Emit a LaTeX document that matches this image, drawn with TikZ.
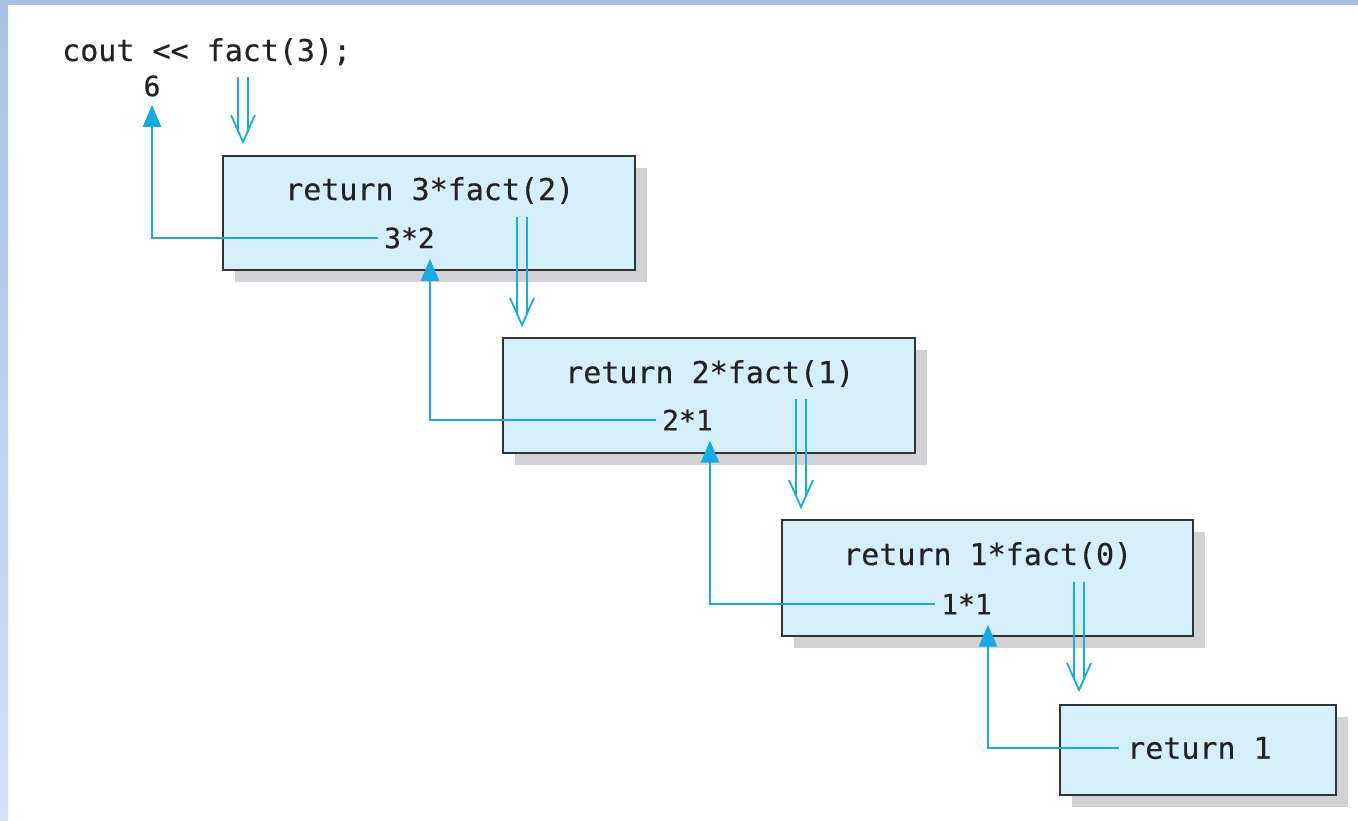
\documentclass[tikz,border=0pt]{standalone}
\usepackage{fontspec}
\newfontfamily\codefont[FakeBold=0.35]{DejaVu Sans Mono}
\usetikzlibrary{shadows,arrows.meta,calc}
\definecolor{boxfill}{HTML}{D4EEFA}
\definecolor{shadowc}{HTML}{D2D2D6}
\definecolor{edgec}{HTML}{333333}
\definecolor{cyanline}{HTML}{1AAAE2}
\definecolor{txt}{HTML}{222222}
\definecolor{stripA}{HTML}{AABFE8}
\definecolor{stripB}{HTML}{D4DFF2}
\begin{document}
\begin{tikzpicture}[x=1pt,y=-1pt,
  framebox/.style={draw=edgec, line width=2pt, fill=boxfill, inner sep=0pt,
    drop shadow={shadow xshift=12pt, shadow yshift=-12pt, fill=shadowc, opacity=1}},
  code/.style={inner sep=0pt, text=txt, font=\codefont\fontsize{30}{36}\selectfont},
  small/.style={inner sep=0pt, text=txt, font=\codefont\fontsize{28}{34}\selectfont},
  dbl/.style={draw=cyanline, line width=1.8pt, line join=miter},
  ret/.style={draw=cyanline, line width=2.4pt, -{Triangle[width=18pt,length=22pt]}}]
\useasboundingbox (0,0) rectangle (1358,820);
\fill[white] (0,0) rectangle (1358,820);
\shade[top color=stripA, bottom color=stripB] (0,0) rectangle (8,820);
\fill[stripA] (0,0) rectangle (1358,5);

% boxes
\node[framebox, minimum width=412pt, minimum height=114pt] (b1) at (429,213) {};
\node[framebox, minimum width=412pt, minimum height=115pt] (b2) at (709,395.5) {};
\node[framebox, minimum width=411pt, minimum height=116pt] (b3) at (987.5,578) {};
\node[framebox, minimum width=276pt, minimum height=90pt] (b4) at (1197.5,750) {};

% texts
\node[code, anchor=base west] (call) at (62,61) {cout << fact(3);};
\node[small] (six) at (152,86) {6};
\node[code, anchor=base west] (r1) at (285,200) {return 3*fact(2)};
\node[small, anchor=west] (t32) at (384,238) {3*2};
\node[code, anchor=base west] (r2) at (565,383) {return 2*fact(1)};
\node[small, anchor=west] (t21) at (662,420) {2*1};
\node[code, anchor=base west] (r3) at (843,565) {return 1*fact(0)};
\node[small, anchor=west] (t11) at (941,604) {1*1};
\node[code, anchor=west] (r4) at (1127,748) {return 1};

% double (call) arrows
\coordinate (d0s) at (243,77);  \coordinate (d0e) at (243,142);
\coordinate (d1s) at (522,217); \coordinate (d1e) at (522,325);
\coordinate (d2s) at (801,399); \coordinate (d2e) at (801,507);
\coordinate (d3s) at (1079,582); \coordinate (d3e) at (1079,690);
\foreach \i in {0,1,2,3}{
  \draw[dbl] ($(d\i s)+(-5,0)$) -- ($(d\i e)+(-5,-10)$);
  \draw[dbl] ($(d\i s)+(5,0)$) -- ($(d\i e)+(5,-10)$);
  \draw[dbl] ($(d\i e)+(-12,-27)$) -- (d\i e) -- ($(d\i e)+(12,-27)$);
}

% return arrows
\draw[ret, shorten <=6pt, shorten >=8pt] (t32.west) -| (six.south);
\draw[ret, shorten <=6pt, shorten >=10pt] (t21.west) -| ($(t32.south east)+(-5,0)$);
\draw[ret, shorten <=6pt, shorten >=10pt] (t11.west) -| ($(t21.south east)+(-3,0)$);
\draw[ret, shorten <=8pt, shorten >=10pt] (r4.west) -| ($(t11.south east)+(-4,0)$);
\end{tikzpicture}
\end{document}
